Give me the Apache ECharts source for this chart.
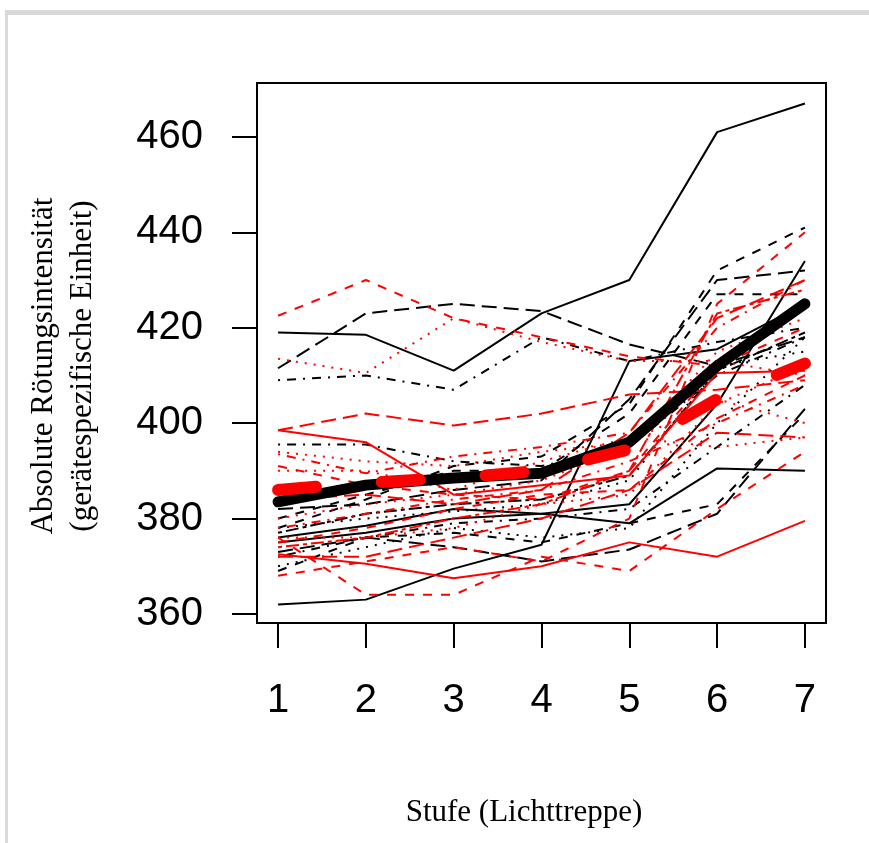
<!DOCTYPE html>
<html>
<head>
<meta charset="utf-8">
<script src="https://cdn.jsdelivr.net/npm/echarts@6/dist/echarts.min.js"></script>
<style>
  html, body { margin: 0; padding: 0; background: #ffffff; }
  #chart { width: 869px; height: 843px; }
</style>
</head>
<body>
<div id="chart"></div>
<script>
// Stufen der Lichttreppe (x) und Achsenbeschriftungen
const stufen = [1, 2, 3, 4, 5, 6, 7];
const yTicks = [360, 380, 400, 420, 440, 460];

// Mittelwerte der beiden Gruppen
const mittelSchwarz = [383.5, 387, 388.5, 389.5, 396, 412, 425];
const mittelRot     = [386, 387.5, 388.5, 390, 394.5, 405, 412.5];

// Einzelverläufe, Gruppe schwarz
const k01 = [419, 418.5, 411, 423, 430, 461, 467];
const k02 = [411.5, 423, 425, 423.5, 416.5, 412, 418];
const k03 = [409, 410, 407, 418, 413, 417, 420];
const k04 = [362, 363, 369.5, 374.5, 413, 415.5, 425];
const k05 = [376, 378.5, 382, 381, 379, 390.5, 390];
const k06 = [395.5, 395.5, 392, 391, 395, 410, 418];
const k07 = [378, 384, 391, 393, 404, 432, 441];
const k08 = [373, 376, 374, 371, 373.5, 381, 403];
const k09 = [375, 377, 380, 381, 383, 404, 434];
const k10 = [380, 385, 390, 390, 402, 427, 427];
const k11 = [370, 374, 378, 376, 378, 400, 418];
const k12 = [377, 381, 383, 384, 389, 411, 419];
const k13 = [382, 383, 386, 388, 405, 430, 432];
const k14 = [372, 376, 379, 380, 382, 395, 408];
const k15 = [369, 376, 377, 375, 379, 383, 402];
const k16 = [378, 380, 381.5, 383, 388, 412, 415];

// Einzelverläufe, Gruppe rot
const r01 = [422.5, 430, 422, 418, 414, 412, 425];
const r02 = [413.5, 410.5, 422, 417, 413, 413, 410];
const r03 = [398.5, 402, 399.5, 402, 406, 407, 409];
const r04 = [398.5, 396, 385, 387, 389, 410.5, 411];
const r05 = [394, 392, 391, 394, 396, 405, 400];
const r06 = [393.5, 389.5, 393, 395, 398, 420, 430];
const r07 = [376, 364, 364, 372, 369, 382, 394];
const r08 = [372.5, 370.5, 367.5, 370, 375, 372, 379.5];
const r09 = [368, 371, 374, 371, 380, 425, 440];
const r10 = [380, 383, 385, 388, 395, 415, 422];
const r11 = [374, 376, 380, 383, 390, 423, 428];
const r12 = [372, 372, 376, 380, 386, 398, 397];
const r13 = [378, 381, 384, 386, 392, 400, 408];
const r14 = [375, 378, 382, 385, 386, 401, 410];
const r15 = [390, 390, 386, 392, 397, 395, 397];
const r16 = [384, 385, 383, 386, 398, 422, 430];
const r17 = [376, 376, 378, 383, 385, 404, 412];
const r18 = [391, 387, 385, 384, 390, 412, 420];

// Linientypen (Strichmuster in Pixeln)
const strich = {
  solid:    'solid',
  dashed:   [9, 9],
  dotted:   [2, 7],
  dotdash:  [2, 7, 9, 7],
  longdash: [15, 7],
  twodash:  [4, 4, 13, 4]
};

const SCHWARZ = '#000000';
const ROT = '#ff0000';

const einzel = [
  [k01, SCHWARZ, 'solid'], [k02, SCHWARZ, 'longdash'], [k03, SCHWARZ, 'dotdash'],
  [k04, SCHWARZ, 'solid'], [k05, SCHWARZ, 'solid'], [k06, SCHWARZ, 'dotdash'],
  [k07, SCHWARZ, 'dashed'], [k08, SCHWARZ, 'longdash'], [k09, SCHWARZ, 'solid'],
  [k10, SCHWARZ, 'dashed'], [k11, SCHWARZ, 'dotted'], [k12, SCHWARZ, 'twodash'],
  [k13, SCHWARZ, 'longdash'], [k14, SCHWARZ, 'dotdash'], [k15, SCHWARZ, 'dashed'],
  [k16, SCHWARZ, 'dotted'],
  [r01, ROT, 'dashed'], [r02, ROT, 'dotted'], [r03, ROT, 'longdash'],
  [r04, ROT, 'solid'], [r05, ROT, 'dotted'], [r06, ROT, 'dotdash'],
  [r07, ROT, 'dashed'], [r08, ROT, 'solid'], [r09, ROT, 'dashed'],
  [r10, ROT, 'dotted'], [r11, ROT, 'twodash'], [r12, ROT, 'longdash'],
  [r13, ROT, 'dotdash'], [r14, ROT, 'dashed'], [r15, ROT, 'dotted'],
  [r16, ROT, 'longdash'], [r17, ROT, 'dotted'], [r18, ROT, 'dashed']
];

const paare = werte => werte.map((v, i) => [stufen[i], v]);

const series = einzel.map(([werte, farbe, art]) => ({
  type: 'line',
  data: paare(werte),
  showSymbol: false,
  silent: true,
  animation: false,
  lineStyle: { color: farbe, width: 2, type: strich[art], cap: 'butt' }
}));

series.push({
  type: 'line',
  data: paare(mittelSchwarz),
  showSymbol: false,
  silent: true,
  animation: false,
  z: 5,
  lineStyle: { color: SCHWARZ, width: 11, type: 'solid', cap: 'round', join: 'round' }
});
series.push({
  type: 'line',
  data: paare(mittelRot),
  showSymbol: false,
  silent: true,
  animation: false,
  z: 6,
  lineStyle: { color: ROT, width: 12, type: [38, 66], cap: 'round', join: 'round' }
});

const chart = echarts.init(document.getElementById('chart'), null, { renderer: 'canvas' });
chart.setOption({
  backgroundColor: '#ffffff',
  animation: false,
  grid: {
    left: 257, right: 43, top: 83, bottom: 220,
    show: true, borderColor: '#000', borderWidth: 2, backgroundColor: 'transparent'
  },
  xAxis: {
    type: 'value',
    min: 0.76, max: 7.24,
    axisLine: { show: false },
    splitLine: { show: false },
    axisTick: { show: true, length: 25, lineStyle: { color: '#000', width: 2 }, customValues: stufen },
    axisLabel: {
      customValues: stufen, margin: 58,
      fontFamily: 'Liberation Sans, Arial, sans-serif', fontSize: 40, color: '#000'
    }
  },
  yAxis: {
    type: 'value',
    min: 358.1, max: 471.3,
    axisLine: { show: false },
    splitLine: { show: false },
    axisTick: { show: true, length: 25, lineStyle: { color: '#000', width: 2 }, customValues: yTicks },
    axisLabel: {
      customValues: yTicks, margin: 54,
      fontFamily: 'Liberation Sans, Arial, sans-serif', fontSize: 40, color: '#000'
    }
  },
  graphic: [
    { type: 'rect', shape: { x: 5, y: 10, width: 864, height: 5 }, style: { fill: '#d9d9d9' }, silent: true },
    { type: 'rect', shape: { x: 5, y: 10, width: 3, height: 833 }, style: { fill: '#d9d9d9' }, silent: true },
    {
      type: 'text', x: 524, y: 813, silent: true,
      style: {
        text: 'Stufe (Lichttreppe)', fill: '#000',
        font: '31px "Liberation Serif", "Times New Roman", serif',
        textAlign: 'center', textVerticalAlign: 'middle'
      }
    },
    {
      type: 'text', x: 44, y: 366, rotation: Math.PI / 2, silent: true,
      style: {
        text: 'Absolute Rötungsintensität', fill: '#000',
        font: '31px "Liberation Serif", "Times New Roman", serif',
        textAlign: 'center', textVerticalAlign: 'middle'
      }
    },
    {
      type: 'text', x: 83, y: 366, rotation: Math.PI / 2, silent: true,
      style: {
        text: '(gerätespezifische Einheit)', fill: '#000',
        font: '31px "Liberation Serif", "Times New Roman", serif',
        textAlign: 'center', textVerticalAlign: 'middle'
      }
    }
  ],
  series: series
});
</script>
</body>
</html>
